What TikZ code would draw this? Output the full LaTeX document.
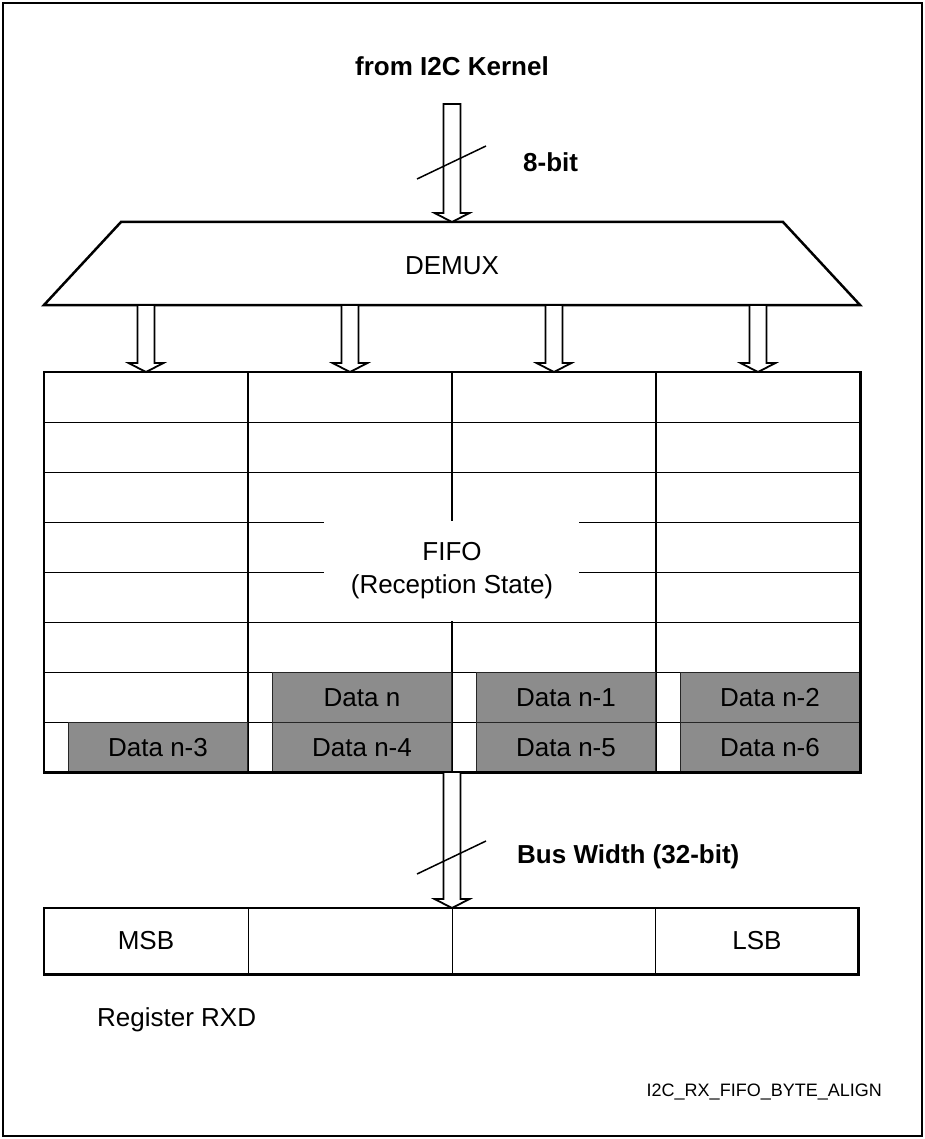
\documentclass[tikz,border=0pt]{standalone}
\usepackage{fontspec}
\setmainfont{Liberation Sans}
\usetikzlibrary{calc}
\definecolor{datagray}{RGB}{140,140,140}
\newcommand{\hollowarrow}[2]{%
  \draw[hollowarrowstyle] let \p1=#1, \p2=#2 in
    (\x1-8.5pt,\y1) -- (\x1-8.5pt,\y2+9pt) -- (\x1-17.5pt,\y2+9pt) -- (\x2,\y2)
    -- (\x1+17.5pt,\y2+9pt) -- (\x1+8.5pt,\y2+9pt) -- (\x1+8.5pt,\y1) -- cycle;}
\begin{document}
\begin{tikzpicture}[x=1pt,y=-1pt,
  thickline/.style={line width=2.5pt},
  thinline/.style={line width=1pt},
  colline/.style={line width=1.4pt},
  lbl/.style={font=\fontsize{26}{33}\selectfont, inner sep=0pt},
  blbl/.style={font=\fontsize{26}{33}\selectfont\bfseries, inner sep=0pt},
  smalllbl/.style={font=\fontsize{18}{22}\selectfont, inner sep=0pt},
  databox/.style={draw=black!85, line width=1pt, fill=datagray, minimum width=179pt,
    minimum height=50pt, inner sep=0pt, anchor=north east, font=\fontsize{26}{33}\selectfont},
  hollowarrowstyle/.style={line width=1.8pt, fill=white, line join=miter},
  slash/.style={line width=1.5pt}]
\useasboundingbox (0,0) rectangle (925,1139);
\fill[white] (0,0) rectangle (925,1139);
\draw[line width=1.5pt] (3,3) rectangle (922,1136);

% title and input bus
\node[blbl] (title) at (452,66) {from I2C Kernel};
\coordinate (inTop) at (452,104);
% DEMUX
\coordinate (dTL) at (121,222);
\coordinate (dTR) at (783,222);
\coordinate (dBR) at (860,305);
\coordinate (dBL) at (44,305);
\draw[thickline, line join=miter] (dTL) -- (dTR) -- (dBR) -- (dBL) -- cycle;
\node[lbl] (demux) at (452,266) {DEMUX};
\coordinate (dIn) at (452,222);
\hollowarrow{(inTop)}{(dIn)}
\draw[slash] (417,179) coordinate (s1a) -- (486,146) coordinate (s1b);
\node[blbl, anchor=west] (eightbit) at (523,162) {8-bit};

% FIFO
\node[minimum width=816pt, minimum height=400pt, inner sep=0pt, anchor=north west] (fifo) at (44,372) {};
\foreach \y in {422,472,522,572,622,672,722}
  \draw[thinline] (44,\y) -- (860,\y);
\foreach \x in {248,452,656}
  \draw[colline] (\x,372) -- (\x,772);
\fill[white] (324,521) rectangle (579,621.3);
\node[lbl, align=center] (fifotext) at (452,571) {FIFO\\(Reception State)};

% data boxes
\node[databox] (dn)  at (452,672) {Data n};
\node[databox] (dn1) at (656,672) {Data n-1};
\node[databox] (dn2) at (860,672) {Data n-2};
\node[databox] (dn3) at (248,722) {Data n-3};
\node[databox] (dn4) at (452,722) {Data n-4};
\node[databox] (dn5) at (656,722) {Data n-5};
\node[databox] (dn6) at (860,722) {Data n-6};
\draw[thickline] (fifo.north west) rectangle (fifo.south east);

% DEMUX to FIFO arrows
\foreach \x [count=\i] in {146,350,554,758}{
  \coordinate (da\i) at (\x,305);
  \coordinate (fa\i) at (\x,372);
  \hollowarrow{(da\i)}{(fa\i)}
}

% Register RXD
\node[minimum width=814pt, minimum height=66pt, inner sep=0pt, anchor=north west] (reg) at (44,908) {};
\foreach \x in {248,452,655}
  \draw[thinline] (\x,908) -- (\x,974);
\draw[thickline] (reg.north west) rectangle (reg.south east);
\node[lbl] (msb) at (146,941) {MSB};
\node[lbl] (lsb) at (757,941) {LSB};

% bus to register
\coordinate (fOut) at (452,772);
\coordinate (rIn) at (452,908);
\hollowarrow{(fOut)}{(rIn)}
\draw[slash] (417,874) coordinate (s2a) -- (486,841) coordinate (s2b);
\node[blbl, anchor=west] (buswidth) at (517,857) {Bus Width (32-bit)};

\node[lbl, anchor=west] (regname) at (97,1020) {Register RXD};
\node[smalllbl, anchor=east] (figid) at (882,1092) {I2C\_RX\_FIFO\_BYTE\_ALIGN};
\end{tikzpicture}
\end{document}
